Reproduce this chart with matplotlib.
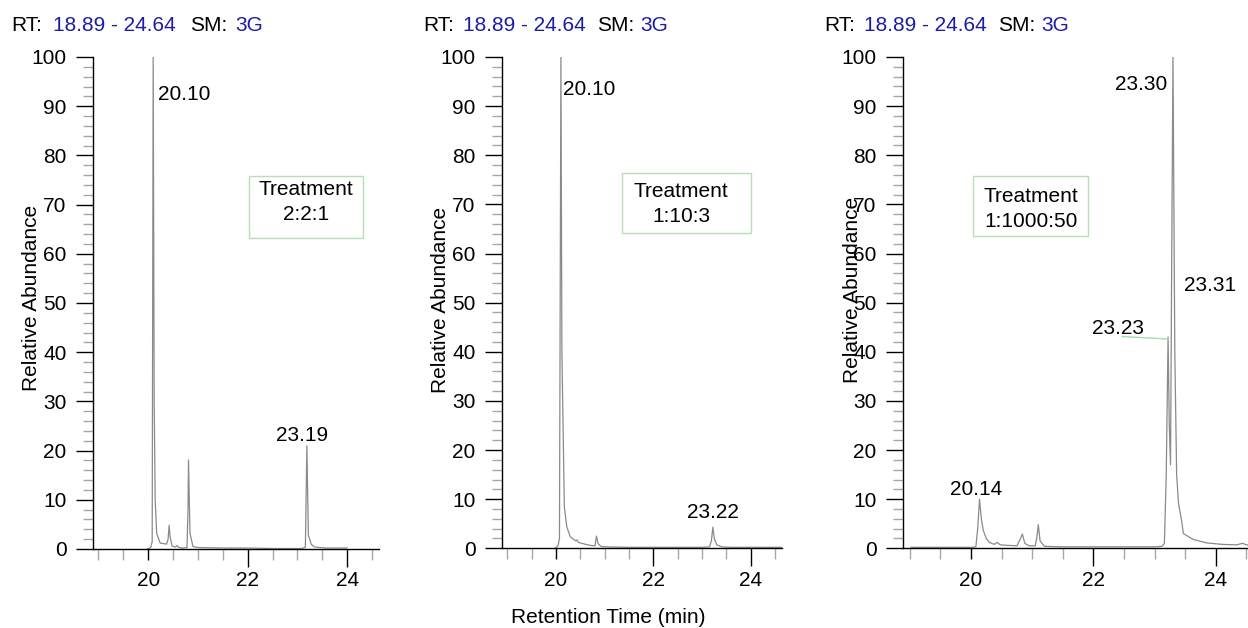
import numpy as np
import matplotlib
matplotlib.use("Agg")
import matplotlib.pyplot as plt
from matplotlib.patches import Rectangle

# ---------------- data ----------------
rt_range = "18.89 - 24.64"
smoothing = "3G"
treatments = ["2:2:1", "1:10:3", "1:1000:50"]

t_221 = [19.98, 20.05, 20.08, 20.10, 20.12, 20.14, 20.17, 20.24, 20.37, 20.40, 20.42,
         20.44, 20.48, 20.54, 20.58, 20.62, 20.70, 20.78, 20.80, 20.81, 20.83, 20.84,
         20.90, 21.00, 21.50, 22.00, 22.50, 23.10, 23.16, 23.19, 23.22, 23.28, 23.35,
         23.45, 23.60, 24.00]
a_221 = [0.0, 0.3, 1.5, 100.0, 30.0, 10.0, 3.2, 1.2, 1.0, 2.0, 4.8,
         2.5, 0.6, 0.4, 0.7, 0.3, 0.2, 0.3, 8.0, 18.1, 8.0, 3.2,
         0.5, 0.3, 0.2, 0.2, 0.1, 0.1, 0.4, 21.0, 2.8, 0.9, 0.4,
         0.3, 0.2, 0.2]

t_1103 = [19.98, 20.04, 20.07, 20.10, 20.12, 20.17, 20.22, 20.29, 20.36, 20.41, 20.43,
          20.46, 20.57, 20.70, 20.80, 20.83, 20.86, 20.92, 21.00, 21.50, 22.00, 22.50,
          23.00, 23.15, 23.19, 23.22, 23.25, 23.30, 23.40, 23.60, 24.00, 24.64]
a_1103 = [0.0, 0.5, 2.0, 100.0, 40.0, 8.5, 4.4, 2.4, 1.8, 1.5, 1.7,
          1.2, 0.9, 0.6, 0.5, 2.5, 1.0, 0.4, 0.3, 0.2, 0.2, 0.2,
          0.2, 0.3, 1.5, 4.3, 2.0, 0.7, 0.3, 0.2, 0.2, 0.2]

t_1100050 = [19.02, 19.50, 20.00, 20.08, 20.11, 20.14, 20.17, 20.20, 20.25, 20.30, 20.38,
             20.43, 20.48, 20.60, 20.75, 20.81, 20.84, 20.88, 20.95, 21.05, 21.08, 21.10,
             21.13, 21.20, 21.50, 22.00, 22.50, 23.00, 23.12, 23.16, 23.19, 23.22, 23.24,
             23.26, 23.28, 23.30, 23.33, 23.36, 23.39, 23.44, 23.47, 23.63, 23.85, 24.10,
             24.34, 24.40, 24.44, 24.50, 24.64]
a_1100050 = [0.2, 0.2, 0.2, 0.3, 4.0, 10.0, 6.0, 3.7, 2.0, 1.2, 0.8,
             1.2, 0.7, 0.6, 0.5, 2.0, 2.9, 1.0, 0.5, 0.5, 2.5, 4.8,
             1.5, 0.4, 0.3, 0.3, 0.3, 0.3, 0.4, 1.0, 15.0, 43.0, 25.0,
             17.0, 60.0, 100.0, 40.0, 15.0, 9.2, 5.7, 3.0, 1.8, 1.1, 0.8,
             0.7, 0.9, 1.0, 0.7, 0.6]

# peak labels: (text, time, abundance, ha)
labels_221 = [("20.10", 20.20, 91.3, "left"), ("23.19", 23.09, 22.0, "center")]
labels_1103 = [("20.10", 20.15, 92.3, "left"), ("23.22", 23.23, 6.1, "center")]
labels_1100050 = [("20.14", 20.08, 10.9, "center"), ("23.23", 22.40, 43.6, "center"),
                  ("23.30", 23.21, 93.3, "right"), ("23.31", 23.48, 52.3, "left")]

series = [(t_221, a_221, labels_221),
          (t_1103, a_1103, labels_1103),
          (t_1100050, a_1100050, labels_1100050)]

# ---------------- style / layout ----------------
plt.rcParams['font.family'] = ['Liberation Sans', 'DejaVu Sans']
FS = 15
BLUE = '#1c1ca6'
TRACE = '#8a8a8a'
BOXC = '#b4e0b4'

W, H = 1248, 628
fig = plt.figure(figsize=(W / 100, H / 100), dpi=100)


def fx(px):
    return px / W


def fy(py):
    return 1 - py / H


# axes pixel boxes (left, right, top, bottom)
boxes = [(93, 379, 57, 549), (502, 782, 57, 548.3), (903, 1255, 57, 548.3)]
header_x = [11.7, 423.3, 824.0]
header_offsets = [(0, 41.6, 178.3, 223.3), (0, 40.0, 174.0, 216.7), (0, 40.0, 174.0, 217.0)]
ylabel_pos = [(32, 298), (441, 300), (852, 290)]
legend_boxes = [(249, 363, 175.7, 238.3), (621.7, 750.7, 173.3, 233.3), (973.3, 1087.7, 175.7, 236.0)]
legend_text = [(305.8, 195.0, 220.0), (681.0, 196.7, 221.7), (1030.7, 201.7, 226.7)]

for i, ((l, r, t, b), (tt, aa, labs)) in enumerate(zip(boxes, series)):
    ax = fig.add_axes([fx(l), fy(b), (r - l) / W, (b - t) / H])
    ax.plot(tt, aa, color=TRACE, lw=0.9, zorder=2)
    ax.set_xlim(18.89, 24.64)
    ax.set_ylim(0, 100)
    for s in ['top', 'right']:
        ax.spines[s].set_visible(False)
    for s in ['left', 'bottom']:
        ax.spines[s].set_linewidth(1.0)
        ax.spines[s].set_color('black')
        ax.spines[s].set_zorder(3)
    ax.set_xticks([20, 22, 24])
    ax.set_xticks(np.arange(19, 24.7, 0.5), minor=True)
    ax.set_yticks(np.arange(0, 101, 10))
    ax.set_yticks(np.arange(0, 101, 2), minor=True)
    ax.tick_params(axis='y', which='major', length=12, width=1, color='black',
                   pad=7, labelsize=FS)
    ax.tick_params(axis='y', which='minor', length=7, width=1, color='#a8a8a8')
    ax.tick_params(axis='x', which='major', length=13, width=1, color='black',
                   pad=3, labelsize=FS)
    ax.tick_params(axis='x', which='minor', length=8, width=1, color='#a8a8a8')
    # the "20" tick is drawn short and gray in the reference
    tk = ax.xaxis.get_major_ticks()[0]
    tk.tick1line.set_markersize(8)
    tk.tick1line.set_color('#a8a8a8')
    ax.patch.set_alpha(0)

    for txt, x, y, ha in labs:
        ax.text(x, y, txt, fontsize=FS, ha=ha, va='baseline', color='black')

    if i == 2:
        ax.plot([22.47, 23.22], [43.1, 42.6], color='#a8dca8', lw=1.0, zorder=2)

    # header
    pieces = [("RT:", 'black'), (rt_range, BLUE), ("SM:", 'black'), (smoothing, BLUE)]
    for (txt, c), off in zip(pieces, header_offsets[i]):
        fig.text(fx(header_x[i] + off), fy(31), txt, fontsize=FS, color=c,
                 ha='left', va='baseline')

    # y label
    fig.text(fx(ylabel_pos[i][0]), fy(ylabel_pos[i][1]), "Relative Abundance",
             rotation=90, fontsize=FS, ha='center', va='center')

    # legend box
    x0, x1, y0, y1 = legend_boxes[i]
    fig.add_artist(Rectangle((fx(x0), fy(y1)), (x1 - x0) / W, (y1 - y0) / H,
                             transform=fig.transFigure, fill=False,
                             edgecolor=BOXC, lw=1.0))
    cx, yb1, yb2 = legend_text[i]
    fig.text(fx(cx), fy(yb1), "Treatment", fontsize=FS, ha='center', va='baseline')
    fig.text(fx(cx), fy(yb2), treatments[i], fontsize=FS, ha='center', va='baseline')

fig.text(fx(608), fy(623), "Retention Time (min)", fontsize=FS, ha='center', va='baseline')

fig.savefig("out.png", dpi=100)
